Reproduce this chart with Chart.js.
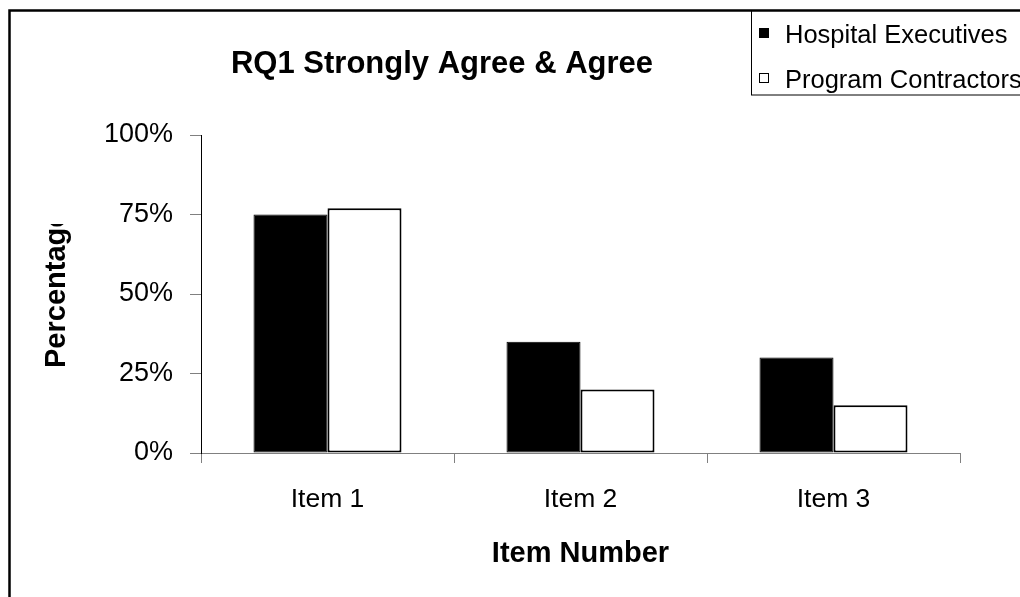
<!DOCTYPE html>
<html>
<head>
<meta charset="utf-8">
<script src="https://cdn.jsdelivr.net/npm/chart.js@4/dist/chart.umd.min.js"></script>
<style>
  html, body { margin: 0; padding: 0; background: #fff; }
  #wrap { width: 1020px; height: 597px; position: relative; }
</style>
</head>
<body>
<div id="wrap"><canvas id="c" width="1020" height="597"></canvas></div>
<script>
// Chart data
const chartTitle = 'RQ1 Strongly Agree & Agree';
const xAxisTitle = 'Item Number';
const yAxisTitle = 'Percentage';
const categories = ['Item 1', 'Item 2', 'Item 3'];
const seriesNames = ['Hospital Executives', 'Program Contractors'];
const hospitalExecutives = [75, 35, 30];
const programContractors = [77, 20, 15];
const yTickValues = [0, 25, 50, 75, 100];

const FONT = "'Liberation Sans', Arial, sans-serif";

// Page frame, titles and legend box drawn around the plot
const decorations = {
  id: 'decorations',
  beforeDraw(chart) {
    const ctx = chart.ctx;
    ctx.save();
    ctx.fillStyle = '#fff';
    ctx.fillRect(0, 0, chart.width, chart.height);
    ctx.restore();
  },
  afterDraw(chart) {
    const ctx = chart.ctx;
    const area = chart.chartArea;
    ctx.save();

    // outer frame (top and left edges)
    ctx.strokeStyle = '#000';
    ctx.lineWidth = 2.5;
    ctx.beginPath();
    ctx.moveTo(9.5, chart.height + 5);
    ctx.lineTo(9.5, 10.5);
    ctx.lineTo(chart.width + 5, 10.5);
    ctx.stroke();

    // chart title
    ctx.fillStyle = '#000';
    ctx.font = 'bold 31px ' + FONT;
    ctx.textAlign = 'center';
    ctx.textBaseline = 'alphabetic';
    ctx.fillText(chartTitle, 442, 73);

    // x axis title
    ctx.font = 'bold 29px ' + FONT;
    ctx.fillText(xAxisTitle, (area.left + area.right) / 2, 562);

    // y axis title (rotated, clipped at the top)
    ctx.save();
    ctx.beginPath();
    ctx.rect(20, 224, 80, 250);
    ctx.clip();
    ctx.translate(65, 368);
    ctx.rotate(-Math.PI / 2);
    ctx.textAlign = 'left';
    ctx.fillText(yAxisTitle, 0, 0);
    ctx.restore();

    // legend box
    ctx.lineWidth = 1;
    ctx.strokeStyle = '#000';
    ctx.strokeRect(751.5, 10.5, 300, 84.5);
    const ds = chart.data.datasets;
    ctx.font = '25.5px ' + FONT;
    ctx.textAlign = 'left';
    ds.forEach((d, i) => {
      const y = 28 + i * 45;
      ctx.fillStyle = d.backgroundColor;
      ctx.fillRect(759, y, 10, 10);
      ctx.strokeStyle = '#000';
      ctx.lineWidth = 1;
      ctx.strokeRect(759.5, y + 0.5, 9, 9);
      ctx.fillStyle = '#000';
      ctx.fillText(d.label, 785, y + 15);
    });

    ctx.restore();
  }
};

new Chart(document.getElementById('c'), {
  type: 'bar',
  data: {
    labels: categories,
    datasets: [
      {
        label: seriesNames[0],
        data: hospitalExecutives,
        backgroundColor: '#000000',
        borderColor: '#000000',
        borderWidth: 1,
        borderSkipped: false
      },
      {
        label: seriesNames[1],
        data: programContractors,
        backgroundColor: '#ffffff',
        borderColor: '#000000',
        borderWidth: 2,
        borderSkipped: false
      }
    ]
  },
  options: {
    responsive: false,
    animation: false,
    devicePixelRatio: 1,
    layout: { padding: { left: 0, right: 60, top: 135, bottom: 0 } },
    datasets: { bar: { categoryPercentage: 0.585, barPercentage: 1.0 } },
    plugins: {
      legend: { display: false },
      title: { display: false },
      tooltip: { enabled: false }
    },
    scales: {
      x: {
        offset: true,
        grid: {
          offset: true,
          drawOnChartArea: false,
          drawTicks: true,
          tickLength: 10,
          color: '#808080',
          lineWidth: 1
        },
        border: { display: true, color: '#808080', width: 1 },
        ticks: {
          color: '#000',
          font: { family: FONT, size: 26.5 },
          padding: 21,
          maxRotation: 0
        },
        afterFit(scale) { scale.height = 144; }
      },
      y: {
        min: 0,
        max: 100,
        afterBuildTicks(scale) {
          scale.ticks = yTickValues.map(v => ({ value: v }));
        },
        grid: {
          drawOnChartArea: false,
          drawTicks: true,
          tickLength: 11,
          color: '#808080',
          lineWidth: 1
        },
        border: { display: true, color: '#000', width: 1 },
        ticks: {
          color: '#000',
          font: { family: FONT, size: 27 },
          padding: 17,
          callback: v => v + '%'
        },
        afterFit(scale) { scale.width = 201; }
      }
    }
  },
  plugins: [decorations]
});
</script>
</body>
</html>
